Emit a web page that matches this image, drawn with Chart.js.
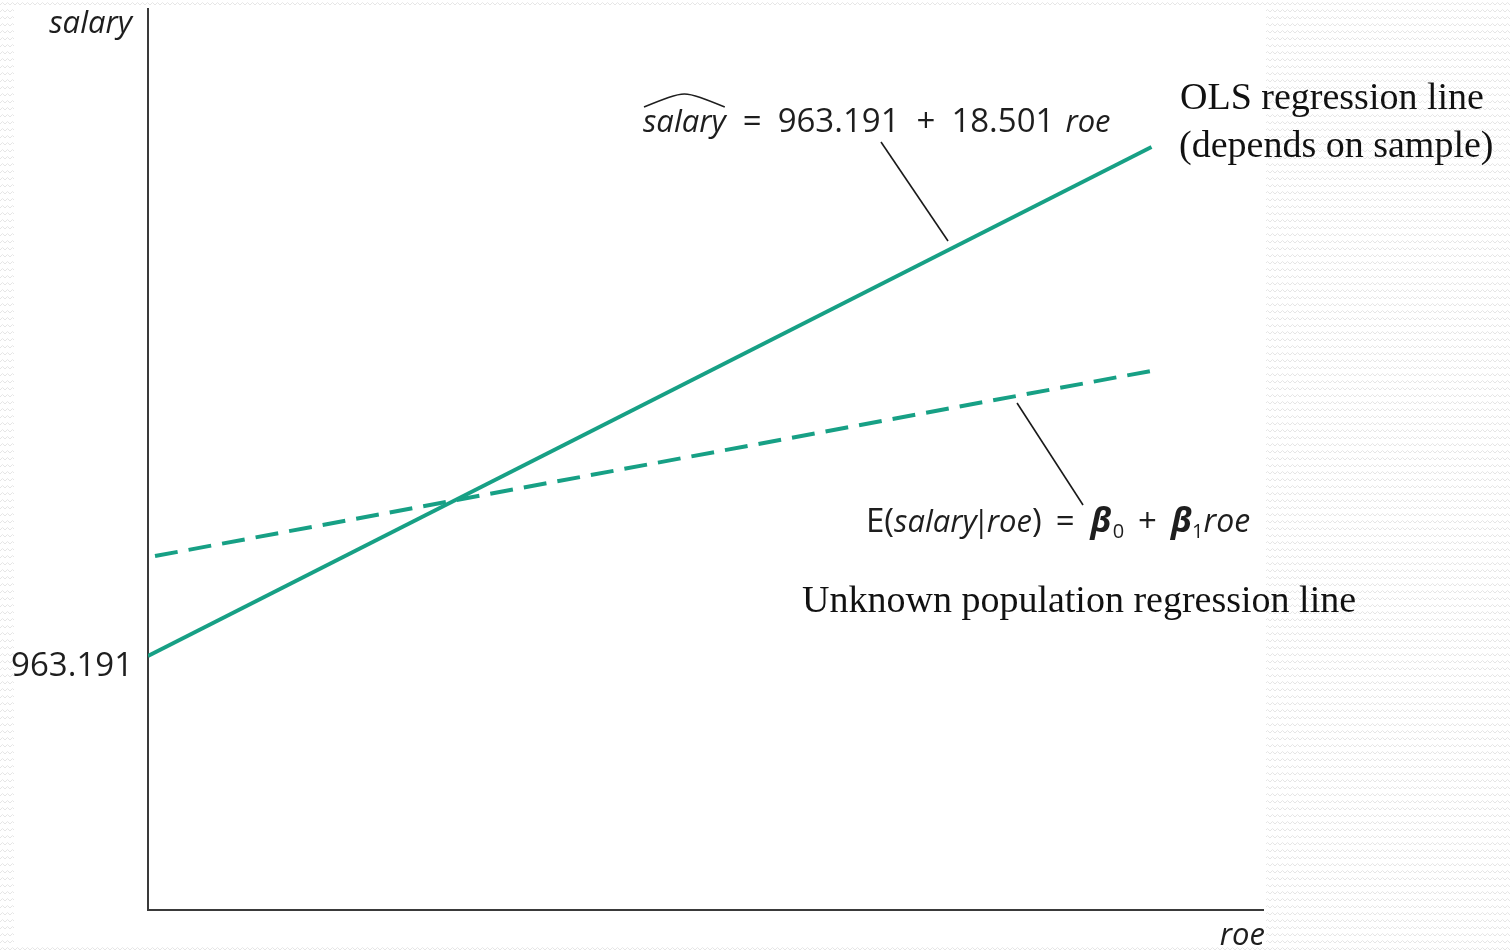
<!DOCTYPE html>
<html>
<head>
<meta charset="utf-8">
<title>OLS vs population regression line</title>
<script src="https://cdn.jsdelivr.net/npm/chart.js@4.4.1/dist/chart.umd.min.js"></script>
<style>
  html, body { margin: 0; padding: 0; }
  body {
    width: 1510px; height: 950px; overflow: hidden;
    background-color: #ffffff;
    background-image: url("data:image/svg+xml;utf8,<svg xmlns='http://www.w3.org/2000/svg' width='10' height='7'><path d='M0 5 L2.5 2.5 L5 5 L7.5 2.5 L10 5' stroke='%23e6e6e6' stroke-width='1' fill='none'/></svg>");
  }
  canvas { display: block; }
</style>
</head>
<body>
<canvas id="chart" width="1510" height="950"></canvas>
<script>
// ---- data ----
// OLS estimate: salary-hat = b0 + b1 * roe
const olsCoef = [963.191, 18.501];
const olsRoe = [0, 90];
const olsSalary = [963.191, 2628.281];

// population regression line E(salary|roe) = beta0 + beta1 * roe (dashed)
const popRoe = [0.63, 90];
const popSalary = [1290, 1896];

// leader lines from the equation labels to their lines
const olsLeaderRoe = [65.74, 71.75];
const olsLeaderSalary = [2645, 2321];
const popLeaderRoe = [77.94, 83.86];
const popLeaderSalary = [1791, 1457];

// y-axis tick (the intercept)
const yTickValues = [963.191];
const yTickLabels = ['963.191'];

const toPoints = (xs, ys) => xs.map((x, i) => ({ x: x, y: ys[i] }));

// ---- styles ----
const TEAL = '#17a085';
const INK = '#1e1e1e';
const SANS = '"Open Sans", "Noto Sans", sans-serif';
const SERIF = '"Liberation Serif", "DejaVu Serif", serif';

// draws a sequence of differently styled text runs on one baseline
function drawRuns(ctx, x, y, runs) {
  let cx = x;
  for (const r of runs) {
    cx += r.gap || 0;
    ctx.font = r.font;
    ctx.fillText(r.text, cx, y + (r.dy || 0));
    const w = ctx.measureText(r.text).width;
    if (r.hat) {
      ctx.save();
      ctx.lineWidth = 1.6;
      ctx.beginPath();
      ctx.moveTo(cx + 1, y - 25);
      ctx.bezierCurveTo(cx + w * 0.25, y - 33, cx + w * 0.4, y - 38, cx + w * 0.5, y - 38);
      ctx.bezierCurveTo(cx + w * 0.6, y - 38, cx + w * 0.75, y - 33, cx + w - 1, y - 25);
      ctx.stroke();
      ctx.restore();
    }
    cx += w;
  }
  return cx;
}

const panelBackground = {
  id: 'panelBackground',
  beforeDraw(chart) {
    const ctx = chart.ctx;
    ctx.save();
    ctx.fillStyle = '#ffffff';
    ctx.fillRect(14, 7, 1252, 939);
    ctx.restore();
  }
};

const annotations = {
  id: 'annotations',
  afterDraw(chart) {
    const ctx = chart.ctx;
    ctx.save();
    ctx.fillStyle = INK;
    ctx.strokeStyle = INK;
    ctx.textBaseline = 'alphabetic';

    // axis titles
    ctx.textAlign = 'right';
    ctx.font = 'italic 31px ' + SANS;
    ctx.fillText('salary', 132, 33);
    ctx.fillText('roe', 1265, 945);

    ctx.textAlign = 'left';
    const it = 'italic 31px ' + SANS;
    const rg = '33px ' + SANS;
    const bi = 'italic bold 34px ' + SANS;
    const sub = '20px ' + SANS;

    // fitted equation
    drawRuns(ctx, 643, 132, [
      { text: 'salary', font: it, hat: true },
      { text: '=', font: rg, gap: 17 },
      { text: olsCoef[0].toFixed(3), font: rg, gap: 16 },
      { text: '+', font: rg, gap: 17 },
      { text: olsCoef[1].toFixed(3), font: rg, gap: 16 },
      { text: 'roe', font: it, gap: 11 }
    ]);

    // population equation
    drawRuns(ctx, 866, 532, [
      { text: 'E(', font: rg },
      { text: 'salary', font: it },
      { text: '|', font: '31px ' + SANS, gap: -4 },
      { text: 'roe', font: it, gap: -3 },
      { text: ')', font: rg },
      { text: '=', font: rg, gap: 14 },
      { text: 'β', font: bi, gap: 16 },
      { text: '0', font: sub, dy: 6, gap: 1 },
      { text: '+', font: rg, gap: 14 },
      { text: 'β', font: bi, gap: 14 },
      { text: '1', font: sub, dy: 6 },
      { text: 'roe', font: 'italic 32px ' + SANS }
    ]);

    // descriptive labels
    ctx.fillStyle = '#111111';
    ctx.font = '38px ' + SERIF;
    ctx.fillText('OLS regression line', 1180, 109);
    ctx.fillText('(depends on sample)', 1179, 157);
    ctx.fillText('Unknown population regression line', 802, 612);
    ctx.restore();
  }
};

new Chart(document.getElementById('chart'), {
  type: 'scatter',
  data: {
    datasets: [
      {
        label: 'OLS regression line',
        data: toPoints(olsRoe, olsSalary),
        showLine: true,
        borderColor: TEAL,
        borderWidth: 3.8,
        pointRadius: 0
      },
      {
        label: 'Population regression line',
        data: toPoints(popRoe, popSalary),
        showLine: true,
        borderColor: TEAL,
        borderWidth: 4,
        borderDash: [23, 11.1],
        pointRadius: 0
      },
      {
        label: 'OLS leader',
        data: toPoints(olsLeaderRoe, olsLeaderSalary),
        showLine: true,
        borderColor: '#1a1a1a',
        borderWidth: 1.6,
        pointRadius: 0
      },
      {
        label: 'Population leader',
        data: toPoints(popLeaderRoe, popLeaderSalary),
        showLine: true,
        borderColor: '#1a1a1a',
        borderWidth: 1.6,
        pointRadius: 0
      }
    ]
  },
  options: {
    responsive: false,
    animation: false,
    events: [],
    layout: { padding: { top: 9, right: 247, left: 0, bottom: 0 } },
    plugins: {
      legend: { display: false },
      tooltip: { enabled: false }
    },
    scales: {
      x: {
        type: 'linear',
        min: 0,
        max: 100,
        grid: { display: false, drawTicks: false },
        border: { display: true, color: '#3a3a3a', width: 2 },
        ticks: { display: false },
        afterFit(scale) {
          scale.height = 40;
          scale.paddingLeft = 0;
          scale.paddingRight = 0;
        }
      },
      y: {
        type: 'linear',
        min: 132,
        max: 3080,
        grid: { display: false, drawTicks: false, tickLength: 0 },
        border: { display: true, color: '#3a3a3a', width: 2 },
        afterBuildTicks(scale) {
          scale.ticks = yTickValues.map(v => ({ value: v }));
        },
        ticks: {
          padding: 15,
          labelOffset: 11,
          color: INK,
          font: { family: SANS, size: 33 },
          callback(value) {
            const i = yTickValues.indexOf(value);
            return i >= 0 ? yTickLabels[i] : '';
          }
        },
        afterFit(scale) {
          scale.width = 148;
          scale.paddingTop = 0;
          scale.paddingBottom = 0;
        }
      }
    }
  },
  plugins: [panelBackground, annotations]
});
</script>
</body>
</html>
